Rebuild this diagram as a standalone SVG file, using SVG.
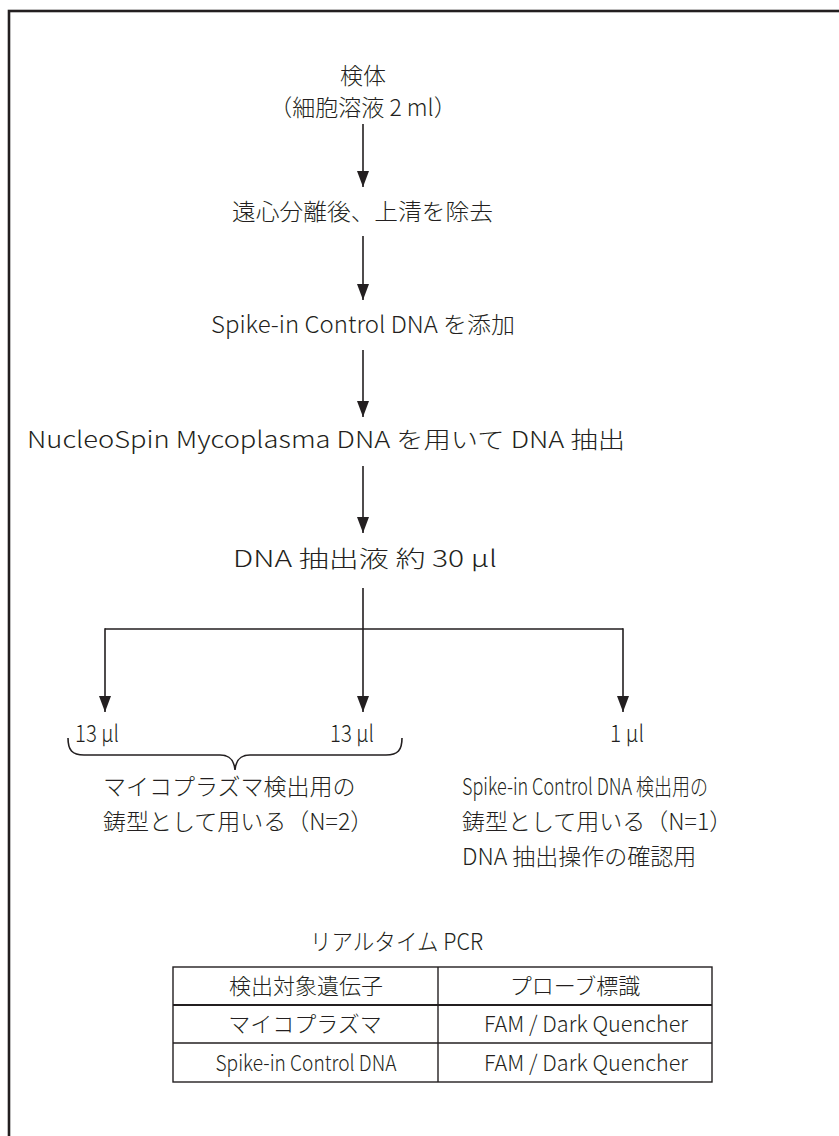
<svg xmlns="http://www.w3.org/2000/svg" width="839" height="1136" viewBox="0 0 839 1136">
<style>
text{font-family:"Noto Sans CJK JP","Noto Sans",sans-serif;font-size:23px;font-weight:300;fill:#231f20;}
.c{text-anchor:middle;}
.t{font-size:22px;}
.ln{stroke:#231f20;stroke-width:1.6;fill:none;}
.tb{stroke:#231f20;stroke-width:1.4;fill:none;}
</style>
<defs>
<marker id="ah" markerWidth="16" markerHeight="12" refX="16" refY="6" orient="auto" markerUnits="userSpaceOnUse" viewBox="0 0 16 12">
<path d="M0,0 L16,6 L0,12 Z" fill="#231f20"/>
</marker>
</defs>
<rect x="0" y="0" width="839" height="1136" fill="#fff"/>
<rect id="frame" x="9" y="11" width="860" height="1160" fill="none" stroke="#231f20" stroke-width="2.6"/>
<g id="connectors">
<line class="ln" x1="363" y1="124" x2="363" y2="187" marker-end="url(#ah)"/>
<line class="ln" x1="363" y1="236" x2="363" y2="300" marker-end="url(#ah)"/>
<line class="ln" x1="363" y1="350" x2="363" y2="417" marker-end="url(#ah)"/>
<line class="ln" x1="363" y1="466" x2="363" y2="533" marker-end="url(#ah)"/>
<path class="ln" d="M363,588 V629 M105,629 H623"/>
<line class="ln" x1="105" y1="628.2" x2="105" y2="712" marker-end="url(#ah)"/>
<line class="ln" x1="363" y1="629" x2="363" y2="712" marker-end="url(#ah)"/>
<line class="ln" x1="623" y1="628.2" x2="623" y2="712" marker-end="url(#ah)"/>
<path class="ln" d="M68,738 C68,750 72,755 84,755 H220 C230,755 234,760 235,770 C236,760 240,755 250,755 H386 C398,755 402,750 402,738"/>
</g>
<g id="n1"><text class="c" x="363" y="84">検体</text><text class="c" x="363" y="116">（細胞溶液 2 ml）</text></g>
<g id="n2"><text x="232" y="220" textLength="261" lengthAdjust="spacingAndGlyphs">遠心分離後、上清を除去</text></g>
<g id="n3"><text x="211" y="333" textLength="304" lengthAdjust="spacingAndGlyphs">Spike-in Control DNA を添加</text></g>
<g id="n4"><text x="27" y="448" textLength="598" lengthAdjust="spacingAndGlyphs">NucleoSpin Mycoplasma DNA を用いて DNA 抽出</text></g>
<g id="n5"><text x="233" y="567" textLength="264" lengthAdjust="spacingAndGlyphs">DNA 抽出液 約 30 μl</text></g>
<g id="v1"><text x="75" y="742" font-size="22" textLength="44" lengthAdjust="spacingAndGlyphs">13 μl</text></g>
<g id="v2"><text x="330" y="742" font-size="22" textLength="44" lengthAdjust="spacingAndGlyphs">13 μl</text></g>
<g id="v3"><text x="610" y="742" font-size="22" textLength="34" lengthAdjust="spacingAndGlyphs">1 μl</text></g>
<g id="d1"><text x="103" y="795">マイコプラズマ検出用の</text><text x="103" y="830">鋳型として用いる（N=2）</text></g>
<g id="d2"><text x="462" y="795" font-size="22" textLength="246" lengthAdjust="spacingAndGlyphs">Spike-in Control DNA 検出用の</text><text x="462" y="830">鋳型として用いる（N=1）</text><text x="462" y="865">DNA 抽出操作の確認用</text></g>
<g id="table">
<text x="310" y="950" textLength="173" lengthAdjust="spacingAndGlyphs">リアルタイム PCR</text>
<rect class="tb" x="173" y="967" width="539" height="115"/>
<line class="tb" x1="438" y1="967" x2="438" y2="1082"/>
<line x1="173" y1="1005" x2="712" y2="1005" stroke="#231f20" stroke-width="2.2"/>
<line class="tb" x1="173" y1="1043" x2="712" y2="1043"/>
<text class="c t" x="306" y="994">検出対象遺伝子</text>
<text class="c t" x="575" y="994">プローブ標識</text>
<text class="c t" x="305" y="1032">マイコプラズマ</text>
<text class="c t" x="586" y="1032" textLength="204" lengthAdjust="spacingAndGlyphs">FAM / Dark Quencher</text>
<text class="c t" x="306" y="1071" textLength="181" lengthAdjust="spacingAndGlyphs">Spike-in Control DNA</text>
<text class="c t" x="586" y="1071" textLength="204" lengthAdjust="spacingAndGlyphs">FAM / Dark Quencher</text>
</g>
</svg>
